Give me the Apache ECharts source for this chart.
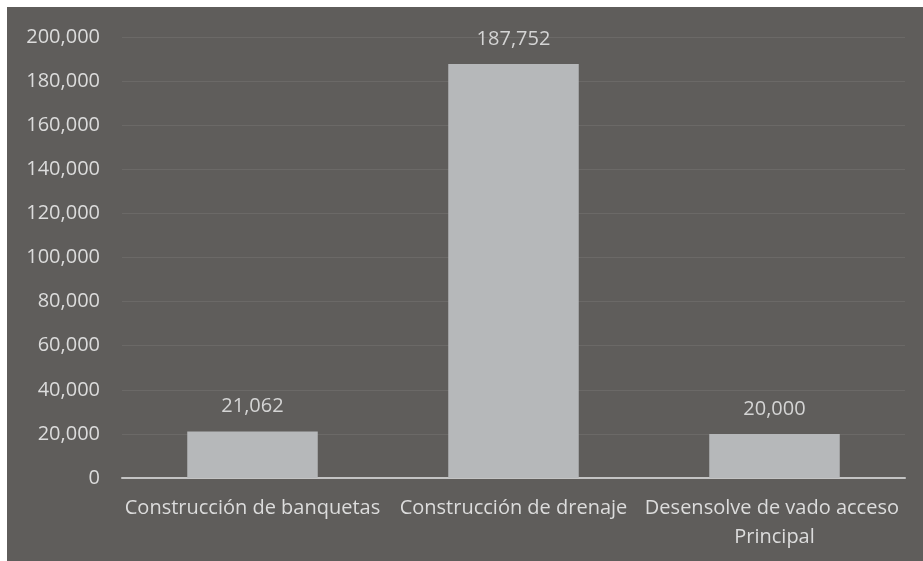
<!DOCTYPE html>
<html>
<head>
<meta charset="utf-8">
<script src="https://cdn.jsdelivr.net/npm/echarts@6/dist/echarts.min.js"></script>
<style>
  html, body { margin: 0; padding: 0; background: #ffffff; }
  #chart { position: absolute; left: 7px; top: 7px; width: 916px; height: 554px; }
</style>
</head>
<body>
<div id="chart"></div>
<script>
const categories = ['Construcción de banquetas', 'Construcción de drenaje', 'Desensolve de vado acceso Principal']
const values = [21062, 187752, 20000]
const yTicks = { min: 0, max: 200000, interval: 20000 }

const fmt = (v) => Number(v).toLocaleString('en-US')
const font = '"Open Sans", "Noto Sans", sans-serif'

const chart = echarts.init(document.getElementById('chart'))
const option = {
  backgroundColor: '#5f5d5b',
  animation: false,
  grid: { left: 115, right: 18, top: 30, bottom: 83 },
  xAxis: {
    type: 'category',
    data: categories,
    axisTick: { show: false },
    axisLine: { lineStyle: { color: '#c4c4c4', width: 2 } },
    axisLabel: {
      interval: 0,
      color: '#dcdcdc',
      fontFamily: font,
      fontSize: 20,
      lineHeight: 29,
      margin: 16,
      width: 275,
      overflow: 'break',
    },
  },
  yAxis: {
    type: 'value',
    min: yTicks.min,
    max: yTicks.max,
    interval: yTicks.interval,
    axisLine: { show: false },
    axisTick: { show: false },
    splitLine: { lineStyle: { color: 'rgba(255,255,255,0.08)', width: 1 } },
    axisLabel: {
      color: '#dcdcdc',
      fontFamily: font,
      fontSize: 20,
      margin: 22,
      formatter: fmt,
    },
  },
  series: [
    {
      type: 'bar',
      data: values,
      barWidth: '50%',
      itemStyle: { color: '#b6b8ba' },
      label: {
        show: true,
        position: 'top',
        distance: 15,
        color: '#d4d4d4',
        fontFamily: font,
        fontSize: 20,
        formatter: (p) => fmt(p.value),
      },
    },
  ],
}
chart.setOption(option)
</script>
</body>
</html>
